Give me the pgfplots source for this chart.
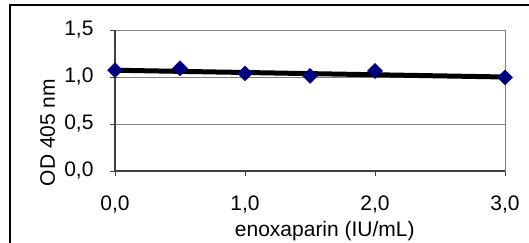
\documentclass[border=0pt]{standalone}
\usepackage{fontspec}
\setmainfont{Liberation Sans}
\usepackage{pgfplots}
\pgfplotsset{compat=1.18}
\definecolor{navyblue}{RGB}{0,0,128}
\definecolor{axisdark}{RGB}{64,64,64}
\definecolor{gridgray}{RGB}{128,128,128}
\begin{document}
\begin{tikzpicture}[x=1pt,y=1pt]
\useasboundingbox (0,0) rectangle (529,242);
\draw[line width=2pt,black] (10,-20) rectangle (560,237);
\begin{axis}[
  at={(115pt,71pt)}, anchor=south west,
  scale only axis, width=390pt, height=141pt,
  xmin=0, xmax=3, ymin=0, ymax=1.5,
  xtick={0,1,2,3}, ytick={0,0.5,1,1.5},
  xtick pos=bottom, ytick pos=left,
  tick align=outside, major tick length=5pt,
  tick style={axisdark, line width=1pt},
  ymajorgrids, major grid style={gridgray, line width=1pt},
  axis line style={gridgray, line width=1pt},
  font=\fontsize{21}{24}\selectfont,
  /pgf/number format/.cd, fixed, fixed zerofill, precision=1, use comma, assume math mode=true,
  /pgfplots/.cd,
  xticklabel style={yshift=-16pt},
  yticklabel style={xshift=-13pt},
  xlabel={enoxaparin (IU/mL)},
  xlabel style={at={(rel axis cs:0.538,-0.468)}, anchor=base},
  ylabel={OD 405 nm},
  ylabel style={at={(rel axis cs:-0.154,0.273)}, anchor=base, rotate=0},
  clip=false,
]
\draw[axisdark, line width=1.2pt] (rel axis cs:0,0) -- (rel axis cs:0,1);
\draw[axisdark, line width=1.2pt] (rel axis cs:0,0) -- (rel axis cs:1,0);
\addplot[only marks, mark=square*, mark size=5.3pt, mark options={rotate=45, fill=navyblue, draw=navyblue}]
  coordinates {(0,1.074) (0.5,1.093) (1.0,1.039) (1.5,1.011) (2.0,1.064) (3.0,0.995)};
\addplot[black, line width=5pt, no marks] coordinates {(0,1.072) (3,1.0)};
\end{axis}
\end{tikzpicture}
\end{document}
